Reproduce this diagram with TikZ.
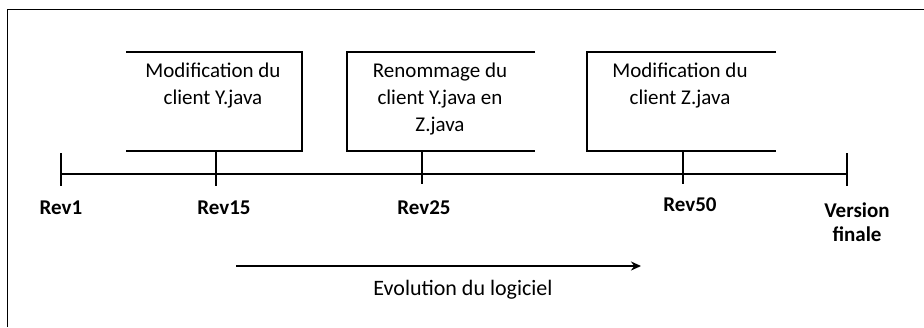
\documentclass[tikz,border=0pt]{standalone}
\usepackage{fontspec}
\setmainfont{Carlito}
\usetikzlibrary{positioning,arrows.meta}

\begin{document}
\begin{tikzpicture}[
    x=1pt, y=-1pt,
    note/.style={font=\fontsize{21}{27}\selectfont, align=center, inner sep=0pt},
    rev/.style={font=\fontsize{21}{24}\selectfont\bfseries, align=center, inner sep=0pt},
    bracket/.style={line width=1.8pt},
    tick/.style={line width=1.6pt},
    arrow/.style={-{Stealth[length=10pt,width=9pt]}, line width=1.6pt}
]
\useasboundingbox (0,0) rectangle (924,327);

% Frame
\draw[line width=0.8pt] (7,327) -- (7,9) -- (924,9);

% Change notes
\draw[bracket] (126,52) -- (302,52) -- (302,151) -- (126,151);
\draw[bracket] (535,52) -- (347,52) -- (347,151) -- (535,151);
\draw[bracket] (776,52) -- (587,52) -- (587,151) -- (776,151);
\node[note] (n15) at (213,86) {Modification du\\client Y.java};
\node[note] (n25) at (440,99) {Renommage du\\client Y.java en\\Z.java};
\node[note] (n50) at (680,86) {Modification du\\client Z.java};
\coordinate (b15) at (216,151);
\coordinate (b25) at (422,151);
\coordinate (b50) at (683,151);

% Timeline
\coordinate (t1) at (61,174);
\coordinate (t15) at (216,174);
\coordinate (t25) at (422,174);
\coordinate (t50) at (683,174);
\coordinate (tf) at (847,174);
\draw[tick] (t1) -- (tf);
\draw[tick] ([yshift=21pt]t1) -- ([yshift=-12pt]t1);
\draw[tick] ([yshift=21pt]tf) -- ([yshift=-12pt]tf);
\draw[tick] (b15) -- ([yshift=-12pt]t15);
\draw[tick] (b25) -- ([yshift=-10pt]t25);
\draw[tick] (b50) -- ([yshift=-10pt]t50);

% Revisions
\node[rev] (r1) at (61,208) {Rev1};
\node[rev] (r15) at (224,208) {Rev15};
\node[rev] (r25) at (424,208) {Rev25};
\node[rev] (r50) at (690,205) {Rev50};
\node[rev] (rf) at (857,222) {Version\\finale};

% Direction
\coordinate (e0) at (236,266);
\coordinate (e1) at (641,266);
\draw[arrow] (e0) -- (e1);
\node[note, font=\fontsize{22}{26}\selectfont] (evo) at (463,290) {Evolution du logiciel};

\end{tikzpicture}
\end{document}
